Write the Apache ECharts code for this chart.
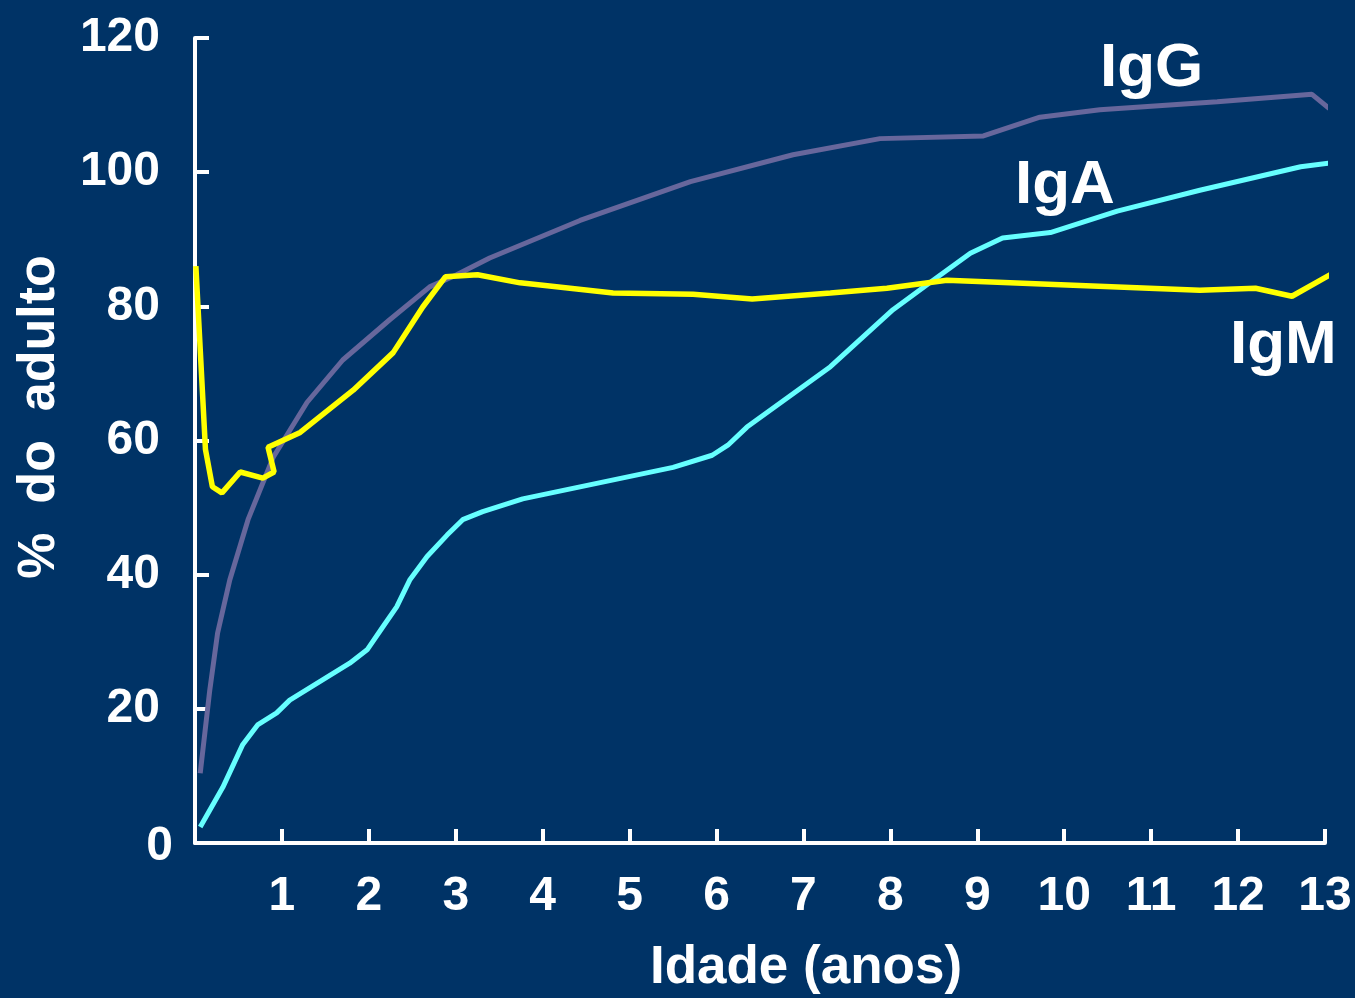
<!DOCTYPE html>
<html>
<head>
<meta charset="utf-8">
<script src="https://cdn.jsdelivr.net/npm/echarts@6/dist/echarts.min.js"></script>
<style>
html,body{margin:0;padding:0;background:#003366;}
#c{width:1355px;height:998px;}
</style>
</head>
<body>
<div id="c"></div>
<script>
// Age in years (x) and % of adult level (y)
const igGAge = [0.06,0.17,0.26,0.40,0.61,0.90,1.29,1.70,2.24,2.70,3.01,3.39,4.43,5.70,6.88,7.88,9.07,9.72,10.41,11.76,12.85,13.05];
const igGVal = [10.4,22.8,31.3,39.2,48.2,57.5,65.7,72.0,78.0,82.9,84.7,87.2,92.8,98.6,102.6,105.0,105.4,108.2,109.3,110.5,111.6,109.5];

const igAAge = [0.06,0.32,0.55,0.72,0.94,1.09,1.78,1.98,2.16,2.32,2.47,2.67,2.90,3.08,3.31,3.77,5.50,5.95,6.13,6.35,7.31,8.03,8.46,8.92,9.29,9.84,10.61,11.56,12.72,13.08];
const igAVal = [2.4,8.3,14.7,17.6,19.4,21.3,26.8,28.8,32.2,35.2,39.2,42.7,45.9,48.2,49.4,51.3,56.0,57.8,59.3,62.0,71.0,79.5,83.6,87.9,90.2,91.0,94.2,97.3,100.8,101.4];

const igMAge = [0.01,0.12,0.20,0.31,0.52,0.78,0.91,0.84,1.21,1.82,2.28,2.62,2.88,3.25,3.74,4.81,5.73,6.41,7.31,7.96,8.65,11.56,12.20,12.62,13.10];
const igMVal = [86.0,58.7,53.1,52.2,55.3,54.4,55.3,59.0,61.2,67.5,73.1,79.9,84.4,84.7,83.5,82.0,81.8,81.1,82.0,82.7,83.9,82.4,82.7,81.5,85.0];

const seriesNames = ['IgG','IgA','IgM'];
const xTitle = 'Idade (anos)';
const yTitle = '%  do  adulto';

const zip = (a, b) => a.map((v, i) => [v, b[i]]);

const FONT = '"Liberation Sans", Arial, sans-serif';
const chart = echarts.init(document.getElementById('c'), null, {renderer: 'canvas'});

chart.setOption({
  backgroundColor: '#003366',
  animation: false,
  grid: {left: 195, top: 38, width: 1130, height: 805, containLabel: false, outerBoundsMode: 'none'},
  xAxis: {
    type: 'value', min: 0, max: 13, interval: 1,
    axisLine: {lineStyle: {color: '#ffffff', width: 4}},
    axisTick: {inside: true, length: 14, lineStyle: {color: '#ffffff', width: 4}},
    axisLabel: {color: '#ffffff', fontSize: 48, fontWeight: 'bold', fontFamily: FONT, margin: 30,
      formatter: v => v === 0 ? '' : String(v)},
    splitLine: {show: false}
  },
  yAxis: {
    type: 'value', min: 0, max: 120, interval: 20, offset: 2,
    axisLine: {lineStyle: {color: '#ffffff', width: 4}},
    axisTick: {inside: true, length: 14, lineStyle: {color: '#ffffff', width: 4}},
    axisLabel: {color: '#ffffff', fontSize: 48, fontWeight: 'bold', fontFamily: FONT, margin: 20,
      formatter: v => v === 0 ? '{z|0}' : '{n|' + v + '}',
      rich: {
        n: {color: '#ffffff', fontSize: 48, fontWeight: 'bold', fontFamily: FONT, padding: [0, 13, 0, 0]},
        z: {color: '#ffffff', fontSize: 48, fontWeight: 'bold', fontFamily: FONT, padding: [8, 0, 0, 0]}
      }},
    splitLine: {show: false}
  },
  series: [
    {name: seriesNames[0], type: 'line', data: zip(igGAge, igGVal), showSymbol: false, clip: false,
      lineStyle: {color: '#67679C', width: 5}},
    {name: seriesNames[1], type: 'line', data: zip(igAAge, igAVal), showSymbol: false, clip: false,
      lineStyle: {color: '#66FFFF', width: 5}},
    {name: seriesNames[2], type: 'line', data: zip(igMAge, igMVal), showSymbol: false, clip: false,
      lineStyle: {color: '#FFFF00', width: 5.5}}
  ],
  graphic: [
    {type: 'text', left: 1100, top: 38, style: {text: seriesNames[0], fill: '#ffffff', font: 'bold 62px ' + FONT}},
    {type: 'text', left: 1015, top: 155, style: {text: seriesNames[1], fill: '#ffffff', font: 'bold 62px ' + FONT}},
    {type: 'text', left: 1230, top: 315, style: {text: seriesNames[2], fill: '#ffffff', font: 'bold 62px ' + FONT}},
    {type: 'text', x: 806, y: 968, style: {text: xTitle, fill: '#ffffff', font: 'bold 53px ' + FONT,
      align: 'center', verticalAlign: 'middle'}},
    {type: 'text', x: 40, y: 417, rotation: Math.PI / 2, style: {text: yTitle, fill: '#ffffff', font: 'bold 52px ' + FONT,
      align: 'center', verticalAlign: 'middle'}}
  ]
});
</script>
</body>
</html>
